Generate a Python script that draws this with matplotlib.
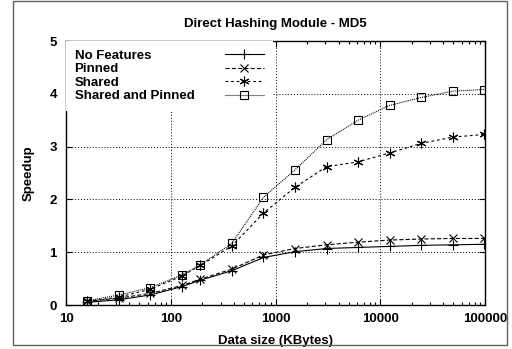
import matplotlib
matplotlib.use("Agg")
import matplotlib.pyplot as plt
from matplotlib.patches import Rectangle

# data (speedup vs data size in KBytes)
sizes = [16, 32, 64, 128, 192, 384, 768, 1536, 3072, 6144, 12288, 24576, 49152, 98304]
no_features = [0.05, 0.10, 0.19, 0.35, 0.47, 0.65, 0.90, 1.01, 1.07, 1.09, 1.11, 1.13, 1.14, 1.15]
pinned = [0.07, 0.13, 0.22, 0.37, 0.49, 0.68, 0.95, 1.07, 1.14, 1.19, 1.23, 1.25, 1.26, 1.26]
shared = [0.07, 0.15, 0.30, 0.55, 0.75, 1.12, 1.74, 2.23, 2.62, 2.71, 2.88, 3.06, 3.18, 3.23]
shared_pinned = [0.08, 0.19, 0.33, 0.57, 0.76, 1.17, 2.04, 2.56, 3.13, 3.50, 3.78, 3.93, 4.05, 4.08]

labels = ["No Features", "Pinned", "Shared", "Shared and Pinned"]
xticks = [10, 100, 1000, 10000, 100000]
yticks = [0, 1, 2, 3, 4, 5]

plt.rcParams["font.family"] = ["Liberation Sans", "DejaVu Sans"]
plt.rcParams["font.weight"] = "bold"
plt.rcParams["font.size"] = 9.5

fig = plt.figure(figsize=(5.12, 3.49), dpi=100)
ax = fig.add_axes([66 / 512, 1 - 305 / 349, 419 / 512, 264 / 349])

# outer frame around the whole picture
fig.patches.append(Rectangle((13 / 512, 1 - 345 / 349), 494 / 512, 344 / 349,
                             transform=fig.transFigure, fill=False,
                             edgecolor="#606060", linewidth=1))

lw = 0.8
ax.plot(sizes, no_features, color="black", lw=lw, linestyle="-",
        marker="+", markersize=7, markeredgewidth=lw, label=labels[0])
ax.plot(sizes, pinned, color="black", lw=lw, linestyle=(0, (3.75, 1.9)),
        marker="x", markersize=5.5, markeredgewidth=lw, label=labels[1])
ax.plot(sizes, shared, color="black", lw=lw, linestyle=(0, (2.5, 2.5)),
        marker=(6, 2, 0), markersize=7, markeredgewidth=lw, label=labels[2])
ax.plot(sizes, shared_pinned, color="black", lw=lw, linestyle=(0, (0.9, 0.9)),
        marker="s", markersize=5.5, markerfacecolor="none", markeredgewidth=lw,
        label=labels[3])

ax.set_xscale("log")
ax.set_xlim(10, 100000)
ax.set_ylim(0, 5)
ax.set_xticks(xticks)
ax.set_xticklabels([str(t) for t in xticks], fontweight="bold")
ax.set_yticks(yticks)
ax.set_yticklabels([str(t) for t in yticks], fontweight="bold")
ax.grid(True, which="major", color="black", linestyle=(0, (1, 2)), linewidth=0.7)
ax.tick_params(which="both", direction="in", top=True, right=True, width=0.8)
ax.tick_params(which="major", length=4.5)
ax.tick_params(which="minor", length=2.5)
ax.tick_params(axis="x", pad=6)
ax.tick_params(axis="y", pad=6.5)
for s in ax.spines.values():
    s.set_linewidth(1)

ax.set_title("Direct Hashing Module - MD5", fontsize=9.5, fontweight="bold", pad=10)
ax.set_xlabel("Data size (KBytes)", fontweight="bold", labelpad=7)
ax.set_ylabel("Speedup", fontweight="bold", labelpad=11)

leg = ax.legend(loc="upper left", markerfirst=False, frameon=True, fancybox=False,
                edgecolor="none", facecolor="white", framealpha=1,
                handlelength=3.0, handletextpad=2.3, labelspacing=0.1,
                borderaxespad=0, borderpad=0.65)
leg.set_zorder(5)

# gnuplot keeps key text left aligned: pad each row so the samples line up
fig.canvas.draw()
renderer = fig.canvas.get_renderer()
texts = leg.get_texts()
widths = [t.get_window_extent(renderer).width for t in texts]
wmax = max(widths)
rows = leg._legend_handle_box.get_children()[0].get_children()
for row, w in zip(rows, widths):
    row.sep = row.sep + (wmax - w) * 72 / fig.dpi

fig.savefig("out.png", dpi=100)
